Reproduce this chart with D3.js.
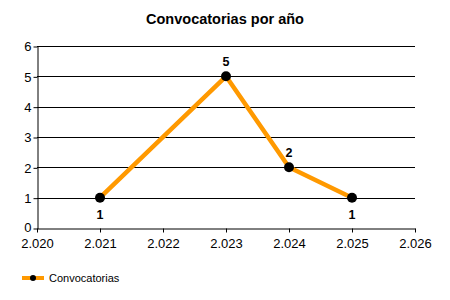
<html>
<head>
<script src="https://d3js.org/d3.v7.min.js"></script>
<style>
  body { margin: 0; background: #fff; }
  text { font-family: "Liberation Sans", Arial, sans-serif; }
</style>
</head>
<body>
<script>
var years = [2021, 2023, 2024, 2025];
var counts = [1, 5, 2, 1];
var xTicks = [2020, 2021, 2022, 2023, 2024, 2025, 2026];
var yTicks = [0, 1, 2, 3, 4, 5, 6];
var seriesName = "Convocatorias";
var title = "Convocatorias por año";

var width = 450, height = 300;
var margin = {top: 46, right: 35, bottom: 72, left: 37};

var svg = d3.select("body").append("svg")
    .attr("width", width)
    .attr("height", height);

var x = d3.scaleLinear().domain([2020, 2026]).range([margin.left, width - margin.right]);
var y = d3.scaleLinear().domain([0, 6]).range([height - margin.bottom, margin.top]);

// spanish style: 2.021
var fmt = function (d) { return (d / 1000).toFixed(3); };

svg.append("text")
    .attr("x", width / 2)
    .attr("y", 24)
    .attr("text-anchor", "middle")
    .style("font-size", "14.5px")
    .style("font-weight", "bold")
    .text(title);

// gridlines
svg.append("g").selectAll("line")
    .data(yTicks.filter(function (d) { return d > 0; }))
    .enter().append("line")
    .attr("x1", margin.left)
    .attr("x2", width - margin.right)
    .attr("y1", function (d) { return Math.round(y(d)) + 0.5; })
    .attr("y2", function (d) { return Math.round(y(d)) + 0.5; })
    .attr("stroke", "#000")
    .attr("stroke-width", 1);

var yAxis = svg.append("g")
    .attr("transform", "translate(" + (margin.left + 0.5) + ",0.5)")
    .call(d3.axisLeft(y).tickValues(yTicks).tickSize(4).tickSizeOuter(0).tickFormat(d3.format("d")));

var xAxis = svg.append("g")
    .attr("transform", "translate(0," + (Math.round(y(0)) + 0.5) + ")")
    .call(d3.axisBottom(x).tickValues(xTicks).tickSize(4).tickSizeOuter(0).tickFormat(fmt));

[xAxis, yAxis].forEach(function (a) {
    a.select(".domain").attr("stroke", "#000");
    a.selectAll("line").attr("stroke", "#000");
    a.selectAll("text")
        .style("font-size", "13px")
        .style("font-family", "'Liberation Sans', Arial, sans-serif")
        .attr("fill", "#000");
});
yAxis.selectAll("text").attr("x", -6);
yAxis.selectAll("text").filter(function (d) { return d === 0; }).attr("dy", "0.2em");
xAxis.selectAll("text").attr("y", 10);

var pts = years.map(function (d, i) { return {year: d, value: counts[i]}; });

var line = d3.line()
    .x(function (d) { return x(d.year); })
    .y(function (d) { return y(d.value); });

svg.append("path")
    .datum(pts)
    .attr("d", line)
    .attr("fill", "none")
    .attr("stroke", "#FF9900")
    .attr("stroke-width", 4.5)
    .attr("stroke-linejoin", "round");

svg.selectAll("circle.pt")
    .data(pts)
    .enter().append("circle")
    .attr("class", "pt")
    .attr("cx", function (d) { return x(d.year); })
    .attr("cy", function (d) { return y(d.value); })
    .attr("r", 5)
    .attr("fill", "#000");

// labels: below when lower or equal than neighbours
svg.selectAll("text.lbl")
    .data(pts)
    .enter().append("text")
    .attr("class", "lbl")
    .attr("x", function (d) { return x(d.year); })
    .attr("y", function (d, i) {
        var prev = i > 0 ? pts[i - 1].value : Infinity;
        var next = i < pts.length - 1 ? pts[i + 1].value : Infinity;
        var below = d.value <= prev && d.value <= next;
        return below ? y(d.value) + 21 : y(d.value) - 10;
    })
    .attr("text-anchor", "middle")
    .style("font-size", "12.5px")
    .style("font-weight", "bold")
    .text(function (d) { return d.value; });

// legend
var lg = svg.append("g").attr("transform", "translate(22,278)");
lg.append("line").attr("x1", 0).attr("x2", 22).attr("y1", 0).attr("y2", 0)
    .attr("stroke", "#FF9900").attr("stroke-width", 4);
lg.append("circle").attr("cx", 11).attr("cy", 0).attr("r", 3).attr("fill", "#000");
lg.append("text").attr("x", 27).attr("y", 4)
    .style("font-size", "11px")
    .text(seriesName);
</script>
</body>
</html>
